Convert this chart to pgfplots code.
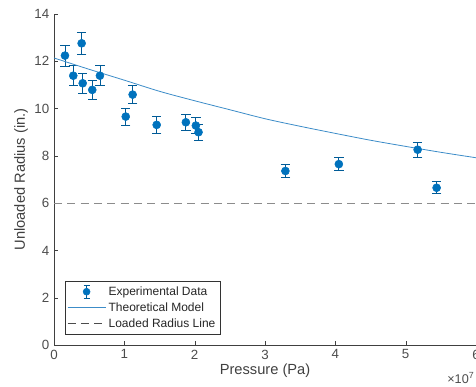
\documentclass[border=0pt]{standalone}
\usepackage{pgfplots}
\pgfplotsset{compat=1.18}
\usepackage{fontspec}
\setmainfont{Liberation Sans}
\usetikzlibrary{calc}
\definecolor{mblue}{RGB}{0,114,189}
\definecolor{lblue}{RGB}{60,140,200}
\definecolor{axgray}{RGB}{64,64,64}
\begin{document}
\begin{tikzpicture}
\begin{axis}[
  width=316.5pt, height=248.25pt, scale only axis,
  xmin=0, xmax=6, ymin=0, ymax=14,
  axis lines=left, axis line style={axgray, -},
  xtick={0,1,...,6}, ytick={0,2,...,14},
  tick align=inside, major tick length=3pt,
  tick style={axgray},
  ticklabel style={font=\fontsize{10}{12}\selectfont, text=black!70},
  /pgf/number format/assume math mode=true,
  xlabel={Pressure (Pa)}, ylabel={Unloaded Radius (in.)},
  label style={font=\fontsize{11}{13}\selectfont, text=black!75},
  xlabel style={yshift=3pt},
  ylabel style={yshift=-2pt},
  legend style={at={(0.026,0.033)}, anchor=south west, draw=black!80, font=\fontsize{9}{11}\selectfont, text=black!85, inner sep=1.5pt, row sep=0pt, legend cell align=left},
  clip=false,
]
\addplot[only marks, mark=*, mark size=3pt, color=mblue,
  legend image code/.code={
    \draw[mblue!80!black, line width=0.6pt] (0.5cm,-0.17cm) -- (0.5cm,0.17cm)
      (0.42cm,-0.17cm) -- (0.58cm,-0.17cm) (0.42cm,0.17cm) -- (0.58cm,0.17cm);
    \fill[mblue] (0.5cm,0) circle (2.6pt);},
  error bars/.cd, y dir=both, y explicit,
  error bar style={color=mblue!80!black, line width=0.6pt},
  error mark options={rotate=90, mark size=3.5pt, color=mblue!80!black, line width=0.6pt}]
  coordinates {
  (0.156,12.24) +- (0,0.45)
  (0.274,11.39) +- (0,0.42)
  (0.393,12.76) +- (0,0.47)
  (0.408,11.07) +- (0,0.41)
  (0.544,10.79) +- (0,0.40)
  (0.653,11.39) +- (0,0.42)
  (1.02,9.66) +- (0,0.36)
  (1.118,10.59) +- (0,0.39)
  (1.46,9.31) +- (0,0.34)
  (1.875,9.42) +- (0,0.35)
  (2.017,9.28) +- (0,0.34)
  (2.055,9.00) +- (0,0.33)
  (3.29,7.36) +- (0,0.27)
  (4.05,7.65) +- (0,0.28)
  (5.17,8.26) +- (0,0.31)
  (5.44,6.65) +- (0,0.25)
  };
\addlegendentry{Experimental Data}
\addplot[color=lblue, line width=0.6pt, smooth, no marks,
  legend image code/.code={\draw[lblue, line width=0.6pt] (0cm,0cm) -- (1cm,0cm);}] coordinates {
  (0,12.14) (0.5,11.66) (1,11.2) (1.5,10.73) (2,10.33) (2.5,9.95) (3,9.57)
  (3.5,9.25) (4,8.95) (4.5,8.66) (5,8.40) (5.5,8.15) (6,7.92)};
\addlegendentry{Theoretical Model}
\addplot[color=black!45, line width=0.6pt, dash pattern=on 6pt off 4pt, no marks,
  legend image code/.code={\draw[black!70, line width=0.6pt, dash pattern=on 6pt off 4pt] (0cm,0cm) -- (1cm,0cm);}] coordinates {(0,6) (6,6)};
\addlegendentry{Loaded Radius Line}
\coordinate (br) at (rel axis cs:1,0);
\coordinate (tl) at (rel axis cs:0,1);
\end{axis}
\node[anchor=north east, font=\fontsize{9.5}{11}\selectfont, text=black!70, inner sep=0pt] at ([xshift=-1pt,yshift=-20pt]br) {×10\textsuperscript{7}};
\pgfresetboundingbox
\path ([xshift=-40.5pt,yshift=10.5pt]tl) rectangle ([yshift=-31.5pt]br);
\end{tikzpicture}
\end{document}
